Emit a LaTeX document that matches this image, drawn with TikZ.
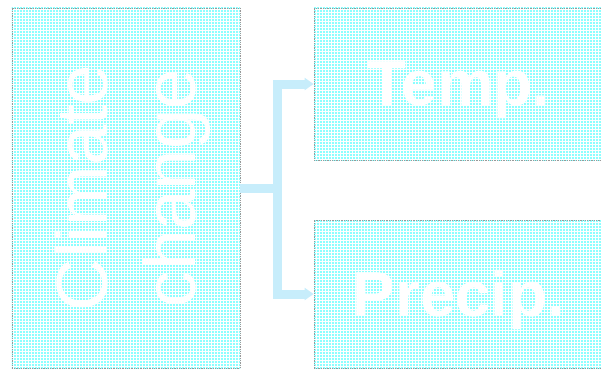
\documentclass[tikz,border=0pt]{standalone}
\usepackage{fontspec}
\setmainfont{Liberation Sans}
\usetikzlibrary{positioning,arrows.meta,patterns}
\pgfdeclarepatternformonly{finegrid}{\pgfpoint{-0.5bp}{-0.5bp}}{\pgfpoint{3.5bp}{3.5bp}}{\pgfpoint{3bp}{3bp}}{%
  \pgfsetlinewidth{1.2bp}%
  \pgfpathmoveto{\pgfpoint{0bp}{0bp}}\pgfpathlineto{\pgfpoint{3bp}{0bp}}%
  \pgfpathmoveto{\pgfpoint{0bp}{0bp}}\pgfpathlineto{\pgfpoint{0bp}{3bp}}%
  \pgfusepath{stroke}}

\begin{document}
\begin{tikzpicture}[x=1bp,y=1bp,>={Triangle[length=9bp,width=12bp]},
  panel/.style={draw=gray!80,densely dotted,line width=0.8bp,fill=cyan!12,pattern=finegrid,pattern color=cyan!45,inner sep=0pt,text=white},
  link/.style={->,draw=cyan!22,line width=9bp}]
\clip (0,0) rectangle (601,371);
\node[panel,minimum width=228bp,minimum height=360bp] (clim) at (126,183) {};
\node[rotate=90,align=center,text=white,font=\fontsize{73}{88}\selectfont] (climtxt) at (133,183) {Climate\\change};
\node[panel,minimum width=290bp,minimum height=152bp,text depth=0pt,font=\fontsize{64}{64}\selectfont\bfseries] (temp) at (459,287) {Temp.};
\node[panel,minimum width=290bp,minimum height=148bp,text depth=2bp,font=\fontsize{64}{64}\selectfont\bfseries] (prec) at (459,77) {Precip.};
\coordinate (split) at (277,183);
\draw[link] (clim.east) -- (split) |- (temp.west);
\draw[link] (split) |- (prec.west);
\end{tikzpicture}
\end{document}
